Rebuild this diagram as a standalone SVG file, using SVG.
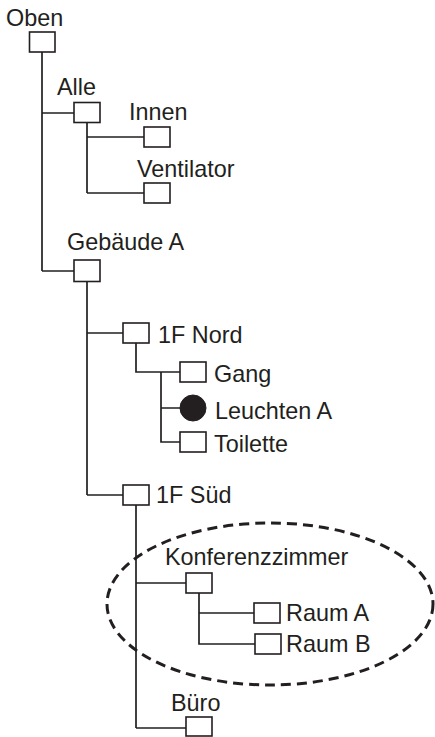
<svg xmlns="http://www.w3.org/2000/svg" width="435" height="737" viewBox="0 0 435 737">
<style>
.bg{fill:#ffffff}
.box{fill:#ffffff;stroke:#231f20;stroke-width:1.6}
.dot{fill:#231f20;stroke:#231f20;stroke-width:1}
.ln{fill:none;stroke:#231f20;stroke-width:1.7}
.grp{fill:none;stroke:#231f20;stroke-width:3;stroke-dasharray:10 6}
text{font-family:"Liberation Sans",Arial,sans-serif;font-size:23.4px;fill:#231f20}
</style>
<rect class="bg" x="0" y="0" width="435" height="737"/>
<g id="connectors">
<path class="ln" d="M42,52 V271 M42,113 H74 M42,271 H74"/>
<path class="ln" d="M87,122.5 V193 M87,137 H144 M87,193 H144"/>
<path class="ln" d="M87,281.5 V495 M87,333 H123 M87,495 H123"/>
<path class="ln" d="M136,343 V372 H180 M161,372 V442 H180 M161,408 H180"/>
<path class="ln" d="M136,505 V728 M136,583 H186 M136,728 H186"/>
<path class="ln" d="M199,593 V644 H255 M199,613 H254"/>
</g>
<g id="group-konferenz">
<ellipse class="grp" cx="270" cy="604" rx="163" ry="81"/>
</g>
<g id="oben"><rect class="box" x="29.5" y="32" width="25.5" height="20"/><text x="6" y="26">Oben</text></g>
<g id="alle"><rect class="box" x="74" y="102.5" width="26" height="20"/><text x="57" y="95">Alle</text></g>
<g id="innen"><rect class="box" x="144" y="127" width="26" height="20"/><text x="129" y="120">Innen</text></g>
<g id="ventilator"><rect class="box" x="144" y="183" width="26" height="20"/><text x="137" y="177">Ventilator</text></g>
<g id="gebaeude-a"><rect class="box" x="74" y="260" width="26" height="21.5"/><text x="67" y="250">Gebäude A</text></g>
<g id="1f-nord"><rect class="box" x="123" y="323" width="26" height="20"/><text x="158" y="343">1F Nord</text></g>
<g id="gang"><rect class="box" x="180" y="362" width="26" height="20"/><text x="214" y="382">Gang</text></g>
<g id="leuchten-a"><circle class="dot" cx="193" cy="408" r="13"/><text x="215" y="419">Leuchten A</text></g>
<g id="toilette"><rect class="box" x="180" y="432" width="26" height="20"/><text x="214" y="452">Toilette</text></g>
<g id="1f-sued"><rect class="box" x="123" y="485" width="26" height="20"/><text x="156" y="503">1F Süd</text></g>
<g id="konferenzzimmer"><rect class="box" x="186" y="573" width="26" height="20"/><text x="165" y="565">Konferenzzimmer</text></g>
<g id="raum-a"><rect class="box" x="254" y="603" width="26" height="20"/><text x="286" y="621">Raum A</text></g>
<g id="raum-b"><rect class="box" x="255" y="634" width="26" height="20"/><text x="286" y="652">Raum B</text></g>
<g id="buero"><rect class="box" x="186" y="717" width="26" height="19"/><text x="171" y="711">Büro</text></g>
</svg>
